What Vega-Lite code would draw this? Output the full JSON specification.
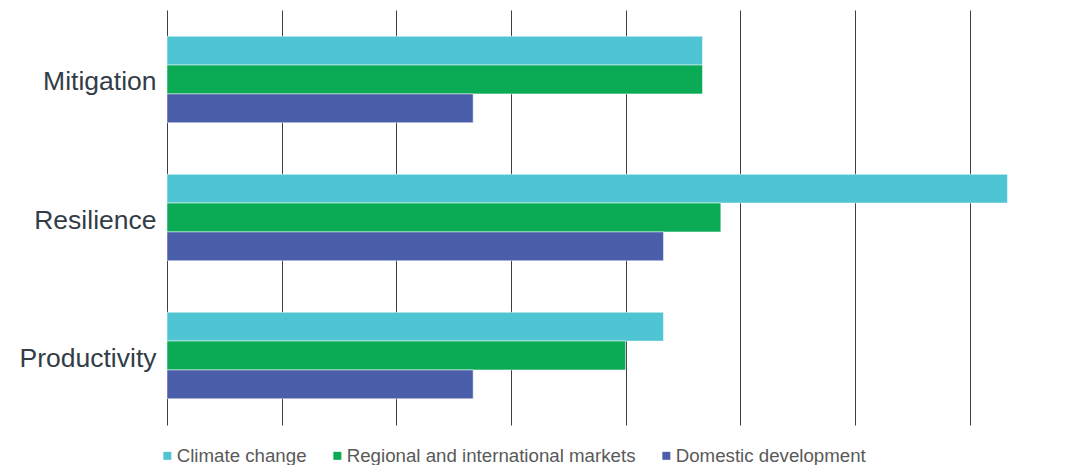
{
  "$schema": "https://vega.github.io/schema/vega-lite/v6.json",
  "width": 860,
  "height": 415,
  "autosize": {"type": "none"},
  "padding": {"left": 167, "top": 10, "right": 51, "bottom": 40},
  "background": "white",
  "data": {
    "values": [
      {"category": "Mitigation", "series": "Climate change", "value": 4.67},
      {"category": "Mitigation", "series": "Regional and international markets", "value": 4.67},
      {"category": "Mitigation", "series": "Domestic development", "value": 2.67},
      {"category": "Resilience", "series": "Climate change", "value": 7.33},
      {"category": "Resilience", "series": "Regional and international markets", "value": 4.83},
      {"category": "Resilience", "series": "Domestic development", "value": 4.33},
      {"category": "Productivity", "series": "Climate change", "value": 4.33},
      {"category": "Productivity", "series": "Regional and international markets", "value": 4.0},
      {"category": "Productivity", "series": "Domestic development", "value": 2.67}
    ]
  },
  "config": {
    "view": {"stroke": null},
    "font": "Liberation Sans"
  },
  "mark": {"type": "bar", "strokeWidth": 1, "strokeOpacity": 0.5, "stroke": "white"},
  "encoding": {
    "y": {
      "field": "category",
      "type": "nominal",
      "sort": ["Mitigation", "Resilience", "Productivity"],
      "scale": {"paddingInner": 0.373, "paddingOuter": 0.19},
      "axis": {
        "title": null,
        "domain": false,
        "ticks": false,
        "labelFontSize": 26.5,
        "labelColor": "#333d47",
        "labelPadding": 11,
        "labelOffset": 3,
        "labelLimit": 0,
        "labelFont": "Liberation Sans"
      }
    },
    "yOffset": {
      "field": "series",
      "type": "nominal",
      "sort": ["Climate change", "Regional and international markets", "Domestic development"],
      "scale": {"paddingInner": 0, "paddingOuter": 0}
    },
    "x": {
      "field": "value",
      "type": "quantitative",
      "scale": {"domain": [0, 7.5], "nice": false},
      "axis": {
        "title": null,
        "values": [0, 1, 2, 3, 4, 5, 6, 7],
        "labels": false,
        "ticks": false,
        "domain": false,
        "grid": true,
        "gridColor": "#3a3f45",
        "gridWidth": 1,
        "gridOpacity": 1
      }
    },
    "color": {
      "field": "series",
      "type": "nominal",
      "sort": ["Climate change", "Regional and international markets", "Domestic development"],
      "scale": {
        "domain": ["Climate change", "Regional and international markets", "Domestic development"],
        "range": ["#4fc4d3", "#0baa54", "#4b5eaa"]
      },
      "legend": {
        "title": null,
        "orient": "none",
        "direction": "horizontal",
        "legendX": -9,
        "legendY": 436,
        "symbolType": "square",
        "symbolSize": 64,
        "symbolStrokeWidth": 0,
        "labelFontSize": 18.7,
        "labelColor": "#595959",
        "labelFont": "Liberation Sans",
        "labelOffset": 0,
        "labelLimit": 0,
        "columnPadding": 21
      }
    }
  }
}
